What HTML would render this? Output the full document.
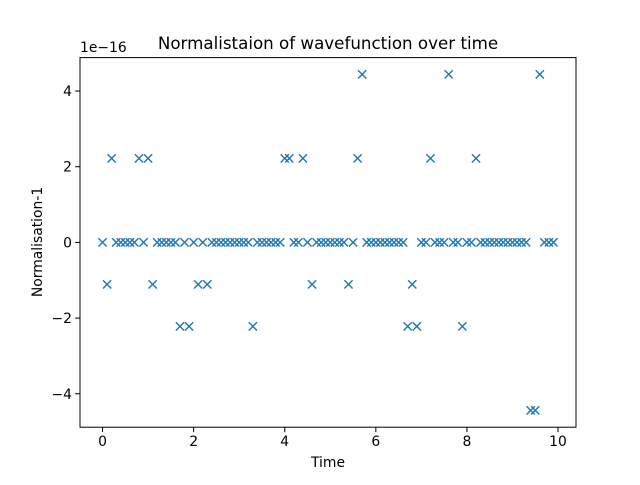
<!DOCTYPE html>
<html><head><meta charset="utf-8"><style>
body{margin:0;background:#fff}
svg text{font-family:"DejaVu Sans","Liberation Sans",sans-serif;fill:#000}
</style></head><body>
<svg id="chart" width="640" height="480" xmlns="http://www.w3.org/2000/svg">
<rect width="640" height="480" fill="#fff"/>
<text x="328" y="49" font-size="16.7" text-anchor="middle">Normalistaion of wavefunction over time</text>
<text x="80" y="52" font-size="13.9">1e−16</text>
<text x="328" y="467" font-size="13.9" text-anchor="middle">Time</text>
<text transform="translate(42,242) rotate(-90)" font-size="13.9" text-anchor="middle">Normalisation-1</text>
<g id="ticks"></g>
<g id="marks"></g>
<rect x="80" y="57.6" width="496" height="369.6" fill="none" stroke="#000" stroke-width="1"/>
</svg>
<script>
const xTicks=[0,2,4,6,8,10];
const yTicks=[-4,-2,0,2,4];
const yTickLabels=["−4","−2","0","2","4"];
const times=[];for(let i=0;i<100;i++)times.push(i/10);
const levels=[0,1.11,2.22,4.44,-1.11,-2.22,-4.44];
const valuesIdx=[0,4,2,0,0,0,0,0,2,0,2,4,0,0,0,0,0,5,0,5,0,4,0,4,0,0,0,0,0,0,0,0,0,5,0,0,0,0,0,0,2,2,0,0,2,0,4,0,0,0,0,0,0,0,4,0,2,3,0,0,0,0,0,0,0,0,0,5,4,5,0,0,2,0,0,0,3,0,0,5,0,0,2,0,0,0,0,0,0,0,0,0,0,0,6,6,3,0,0,0];
const values=valuesIdx.map(k=>levels[k]);
const X0=80,X1=576,Y0=57.6,Y1=427.2,xmin=-0.495,xmax=10.395,ymin=-4.884,ymax=4.884;
const sx=v=>X0+(v-xmin)/(xmax-xmin)*(X1-X0);
const sy=v=>Y1-(v-ymin)/(ymax-ymin)*(Y1-Y0);
const NS="http://www.w3.org/2000/svg";
const tg=document.getElementById('ticks'),mg=document.getElementById('marks');
function mk(t,a,p){const e=document.createElementNS(NS,t);for(const k in a)e.setAttribute(k,a[k]);p.appendChild(e);return e;}
xTicks.forEach(v=>{const x=sx(v);
const l=mk('line',{x1:x,x2:x,y1:Y1,y2:Y1+4.9,stroke:'#000','stroke-width':1},tg);


const t=mk('text',{x:x,y:Y1+19,'font-size':13.9,'text-anchor':'middle'},tg);t.textContent=v;

});
yTicks.forEach((v,i)=>{const y=sy(v);
const l=mk('line',{x1:X0-4.9,x2:X0,y1:y,y2:y,stroke:'#000','stroke-width':1},tg);


const t=mk('text',{x:X0-8,y:y+5,'font-size':13.9,'text-anchor':'end'},tg);t.textContent=yTickLabels[i];

});
times.forEach((t,i)=>{const x=sx(t),y=sy(values[i]),r=4.1;
const p=mk('path',{d:`M${x-r},${y-r}L${x+r},${y+r}M${x-r},${y+r}L${x+r},${y-r}`,stroke:'#1f77b4','stroke-width':1.4,fill:'none'},mg);

});
</script>
</body></html>
